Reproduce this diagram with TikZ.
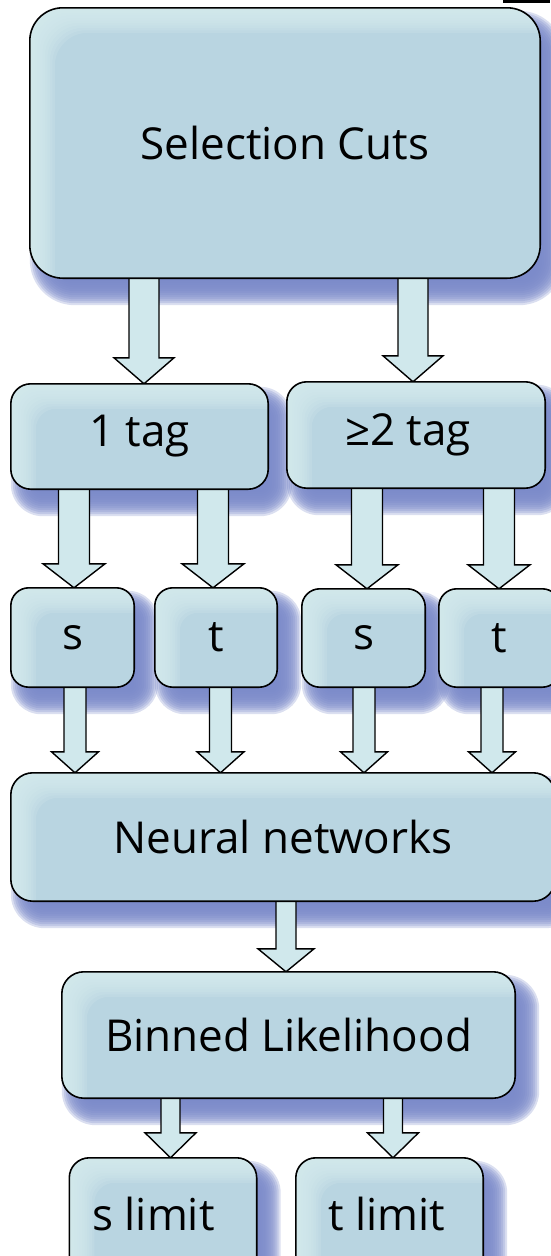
\documentclass[tikz,border=0pt]{standalone}
\usepackage{fontspec}
\setmainfont{Open Sans}
\usetikzlibrary{calc}

\pgfdeclarelayer{shadowlayer}
\pgfdeclarelayer{arrowlayer}
\pgfdeclarelayer{boxlayer}
\pgfsetlayers{shadowlayer,arrowlayer,boxlayer,main}

\definecolor{boxblue}{RGB}{185,213,225}
\definecolor{boxglow}{RGB}{213,235,238}
\definecolor{shadowblue}{RGB}{122,137,201}
\definecolor{arrowfill}{RGB}{208,232,236}

\tikzset{
  boxnode/.style={shape=rectangle, inner sep=0pt, font=\fontsize{44}{50}\selectfont},
  arrowbody/.style={draw=black, fill=arrowfill, line width=1.4pt, line join=miter},
  boxborder/.style={draw=black, line width=1.6pt},
}

% soft shadow + glowing fill + outline for a box node (#1 name, #2 corner radius)
\newcommand{\decobox}[2]{%
  \begin{pgfonlayer}{shadowlayer}
    \foreach \k in {0,...,12}{%
      \pgfmathsetmacro{\e}{12-2*\k}%
      \pgfmathsetmacro{\rr}{max(#2+\e,2)}%
      \fill[shadowblue, opacity=0.27, rounded corners=\rr pt]
        ($(#1.north west)+(12-\e,15-\e)$) rectangle ($(#1.south east)+(12+\e,15+\e)$);
    }
  \end{pgfonlayer}
  \begin{pgfonlayer}{boxlayer}
    \begin{scope}
      \clip[rounded corners=#2pt] (#1.north west) rectangle (#1.south east);
      \fill[boxblue] (#1.north west) rectangle (#1.south east);
      \foreach \k in {1,...,10}{%
        \fill[boxglow, opacity=0.22, even odd rule]
          (#1.north west) rectangle (#1.south east)
          [rounded corners=#2pt] ($(#1.north west)+(\k*2.5,\k*2.5)$) rectangle ($(#1.south east)+(40,40)$);
      }
    \end{scope}
    \draw[boxborder, rounded corners=#2pt] (#1.north west) rectangle (#1.south east);
  \end{pgfonlayer}}

% block arrow at x=#1 from node #2 down to node #3
% (#4 shaft half width, #5 head half width, #6 head length)
\newcommand{\flowarrow}[6]{%
  \begin{pgfonlayer}{arrowlayer}
    \draw[arrowbody] let \p1=(#2.south), \p2=(#3.north) in
      (#1pt-#4pt,\y1+3pt) -- (#1pt-#4pt,\y2+#6pt) -- (#1pt-#5pt,\y2+#6pt)
      -- (#1pt,\y2) -- (#1pt+#5pt,\y2+#6pt) -- (#1pt+#4pt,\y2+#6pt)
      -- (#1pt+#4pt,\y1+3pt) -- cycle;
  \end{pgfonlayer}}

\begin{document}
\begin{tikzpicture}[x=1pt, y=-1pt]
  \useasboundingbox (0,0) rectangle (550,1256);
  \clip (0,0) rectangle (550,1256);

  % boxes
  \node[boxnode, minimum width=510pt, minimum height=270pt] (sel) at (285,143) {Selection Cuts};
  \node[boxnode, minimum width=257pt, minimum height=105pt] (tag1) at (139.5,436.5) {\raisebox{-3pt}{1 tag}};
  \node[boxnode, minimum width=258pt, minimum height=106pt] (tag2) at (416,435) {\hspace*{-16pt}\raisebox{-3pt}{≥2 tag}};
  \node[boxnode, minimum width=123pt, minimum height=99pt] (s1) at (72.5,637.5) {s};
  \node[boxnode, minimum width=122pt, minimum height=99pt] (t1) at (216,637.5) {t};
  \node[boxnode, minimum width=123pt, minimum height=98pt] (s2) at (363.5,638) {s};
  \node[boxnode, minimum width=121pt, minimum height=98pt] (t2) at (499.5,638) {t};
  \node[boxnode, minimum width=544pt, minimum height=128pt] (nn) at (283,837) {Neural networks};
  \node[boxnode, minimum width=453pt, minimum height=126pt] (bl) at (288.5,1035) {Binned Likelihood};
  \node[boxnode, minimum width=187pt, minimum height=132pt] (slim) at (163,1224) {\hspace*{-19pt}\raisebox{20pt}{s limit}};
  \node[boxnode, minimum width=187pt, minimum height=132pt] (tlim) at (389.5,1224) {\hspace*{-6pt}\raisebox{20pt}{t limit}};

  \decobox{sel}{33}
  \decobox{tag1}{20}
  \decobox{tag2}{20}
  \decobox{s1}{18}
  \decobox{t1}{18}
  \decobox{s2}{18}
  \decobox{t2}{18}
  \decobox{nn}{22}
  \decobox{bl}{22}
  \decobox{slim}{20}
  \decobox{tlim}{20}

  % connectors
  \flowarrow{144}{sel}{tag1}{15}{30}{26}
  \flowarrow{413}{sel}{tag2}{15}{30}{26}
  \flowarrow{74}{tag1}{s1}{15.5}{31}{24}
  \flowarrow{213}{tag1}{t1}{15.5}{31}{24}
  \flowarrow{367}{tag2}{s2}{15.5}{31}{24}
  \flowarrow{499}{tag2}{t2}{15.5}{31}{24}
  \flowarrow{75}{s1}{nn}{11}{23.5}{21}
  \flowarrow{220.5}{t1}{nn}{11}{23.5}{21}
  \flowarrow{364}{s2}{nn}{11}{23.5}{21}
  \flowarrow{492}{t2}{nn}{11}{23.5}{21}
  \flowarrow{286}{nn}{bl}{10}{28}{23}
  \flowarrow{170.5}{bl}{slim}{9.5}{25.5}{25}
  \flowarrow{393}{bl}{tlim}{9.5}{25.5}{25}

  % small bar at the top edge
  \fill[black] (503,0) rectangle (550,3);
\end{tikzpicture}
\end{document}
